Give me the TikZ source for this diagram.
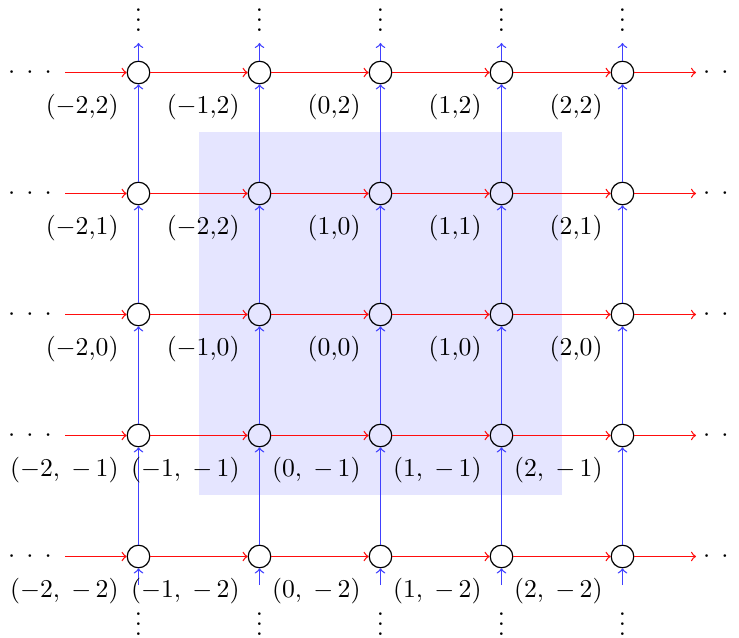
\documentclass[tikz,border=0pt]{standalone}
\usepackage{graphicx}
\newcommand\mycdots{\scalebox{1.07}{$\cdotp\mkern4.8mu\cdotp\mkern4.8mu\cdotp$}}
\newcommand\myvd{\scalebox{1.07}{$\vdots$}}
\newcommand\lb[1]{\scalebox{1.07}{$#1$}}
\begin{document}
\begin{tikzpicture}[x=0.416667pt,y=0.416667pt,
  vert/.style={circle,draw,line width=0.5pt,minimum size=9.4pt,inner sep=0pt},
  hedge/.style={->,red!95,line width=0.55pt},
  vedge/.style={->,blue!75,line width=0.55pt},
  lbl/.style={anchor=north east,inner sep=0pt},
  dotsnode/.style={inner sep=0pt}]
\useasboundingbox (0,0) rectangle (739,637);
\fill[blue!10] (199,142) rectangle (562,505);
\foreach \i in {1,...,5}{
  \foreach \j in {1,...,5}{
    \node[vert] (n\i\j) at ({138.5+121*(\i-1)},{80.5+121*(\j-1)}) {};
  }
}
% horizontal edges
\foreach \j in {1,...,5}{
  \coordinate (L\j) at (65,{80.5+121*(\j-1)});
  \coordinate (R\j) at (696,{80.5+121*(\j-1)});
  \draw[hedge] (L\j) -- (n1\j);
  \foreach \i [count=\k from 2] in {1,...,4}{
    \draw[hedge] (n\i\j) -- (n\k\j);
  }
  \draw[hedge] (n5\j) -- (R\j);
  \node[dotsnode,anchor=base] (hl\j) at (30,{80.5+121*(\j-1)-6.3}) {\mycdots};
  \node[dotsnode,anchor=base] (hr\j) at (725,{80.5+121*(\j-1)-6.3}) {\mycdots};
}
% vertical edges
\foreach \i in {1,...,5}{
  \coordinate (B\i) at ({138.5+121*(\i-1)},52);
  \coordinate (T\i) at ({138.5+121*(\i-1)},594);
  \draw[vedge] (B\i) -- (n\i1);
  \foreach \j [count=\k from 2] in {1,...,4}{
    \draw[vedge] (n\i\j) -- (n\i\k);
  }
  \draw[vedge] (n\i5) -- (T\i);
  \node[dotsnode,anchor=south] (vt\i) at ({138.5+121*(\i-1)},604.6) {\myvd};
  \node[dotsnode,anchor=south] (vb\i) at ({138.5+121*(\i-1)},0.6) {\myvd};
}
% labels
\foreach \i/\t in {1/{(-2{,}2)},2/{(-1{,}2)},3/{(0{,}2)},4/{(1{,}2)},5/{(2{,}2)}}
  \node[lbl] (l\i5) at ([shift={(-19.5,-21)}]n\i5.center) {\lb{\t}};
\foreach \i/\t in {1/{(-2{,}1)},2/{(-2{,}2)},3/{(1{,}0)},4/{(1{,}1)},5/{(2{,}1)}}
  \node[lbl] (l\i4) at ([shift={(-19.5,-21)}]n\i4.center) {\lb{\t}};
\foreach \i/\t in {1/{(-2{,}0)},2/{(-1{,}0)},3/{(0{,}0)},4/{(1{,}0)},5/{(2{,}0)}}
  \node[lbl] (l\i3) at ([shift={(-19.5,-21)}]n\i3.center) {\lb{\t}};
\foreach \i/\t in {1/{(-2,\;{-}\mkern3mu1)},2/{(-1,\;{-}\mkern3mu1)},3/{(0,\;{-}\mkern3mu1)},4/{(1,\;{-}\mkern3mu1)},5/{(2,\;{-}\mkern3mu1)}}
  \node[lbl] (l\i2) at ([shift={(-19.5,-21)}]n\i2.center) {\lb{\t}};
\foreach \i/\t in {1/{(-2,\;{-}\mkern3mu2)},2/{(-1,\;{-}\mkern3mu2)},3/{(0,\;{-}\mkern3mu2)},4/{(1,\;{-}\mkern3mu2)},5/{(2,\;{-}\mkern3mu2)}}
  \node[lbl] (l\i1) at ([shift={(-19.5,-21)}]n\i1.center) {\lb{\t}};
\end{tikzpicture}
\end{document}
